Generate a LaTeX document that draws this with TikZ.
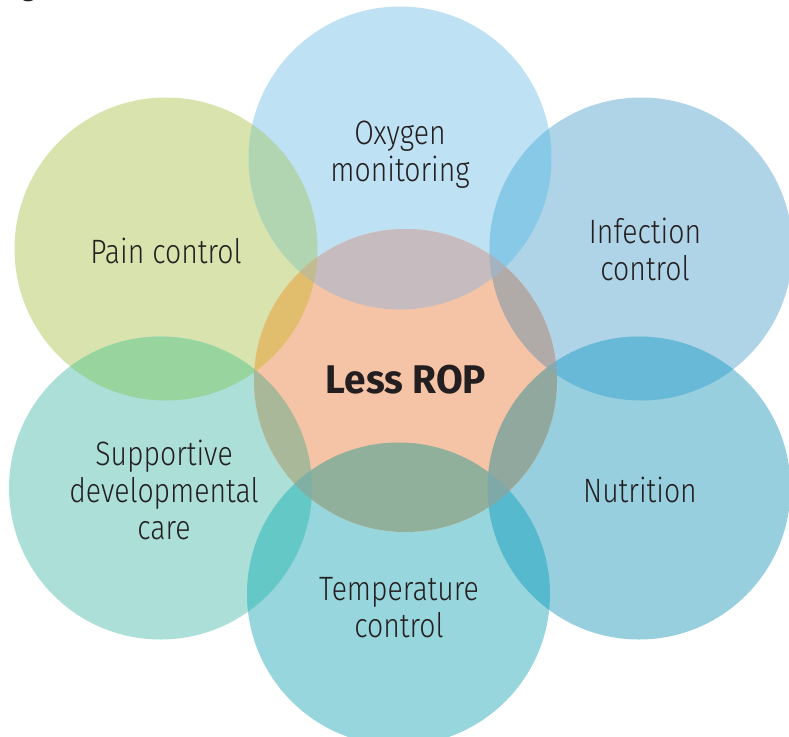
\documentclass[tikz,border=0pt]{standalone}
\usepackage{fontspec}
\setmainfont{Fira Sans Light}[FakeStretch=0.84]
\newfontfamily\ropfont{Fira Sans Bold}[FakeStretch=0.97]
\definecolor{txt}{HTML}{231F20}
\definecolor{cPain}{HTML}{D8E3AD}
\definecolor{cOxy}{HTML}{BEE1F3}
\definecolor{cInf}{HTML}{B0D4E7}
\definecolor{cSup}{HTML}{ACDFD8}
\definecolor{cNut}{HTML}{97CFDE}
\definecolor{cTem}{HTML}{98D6DD}
\definecolor{cCen}{HTML}{F5C4A6}
\definecolor{PO}{HTML}{B0D5B0}
\definecolor{OI}{HTML}{88C9E8}
\definecolor{PS}{HTML}{98D59E}
\definecolor{IN}{HTML}{68B8D8}
\definecolor{ST}{HTML}{64C8C6}
\definecolor{NT}{HTML}{56B9CE}
\definecolor{CO}{HTML}{C6BBBE}
\definecolor{CP}{HTML}{E0BE6E}
\definecolor{CI}{HTML}{B0ABA9}
\definecolor{CS}{HTML}{A8B898}
\definecolor{CN}{HTML}{90A89E}
\definecolor{CT}{HTML}{91B09C}
\definecolor{CPO}{HTML}{C2BA90}
\definecolor{COI}{HTML}{A5B3C0}
\definecolor{CIN}{HTML}{88A8B0}
\definecolor{CNT}{HTML}{7FA8A8}
\definecolor{CST}{HTML}{80B0A4}
\definecolor{CSP}{HTML}{B0BE88}
\newcommand\Rad{151.5pt}
\newcommand\lensfill[3]{\begin{scope}\clip (#1) circle (\Rad);\fill[#3] (#2) circle (\Rad);\end{scope}}
\newcommand\tripfill[4]{\begin{scope}\clip (#1) circle (\Rad);\clip (#2) circle (\Rad);\fill[#4] (#3) circle (\Rad);\end{scope}}
\tikzset{
  lbl/.style={text=txt, align=center, inner sep=0pt, font=\fontsize{33.8}{37}\selectfont},
  boldlbl/.style={text=txt, inner sep=0pt, font=\ropfont\fontsize{40}{44}\selectfont},
}
\begin{document}
\begin{tikzpicture}[x=1pt,y=-1pt]
\useasboundingbox (0,0) rectangle (789,736);
\coordinate (cC) at (405.5,380.5);
\coordinate (cO) at (400,158);
\coordinate (cP) at (166,249);
\coordinate (cI) at (641,249);
\coordinate (cS) at (160.5,488);
\coordinate (cN) at (639,488);
\coordinate (cT) at (398.5,594);
% base discs
\fill[cPain] (cP) circle (\Rad);
\fill[cOxy] (cO) circle (\Rad);
\fill[cInf] (cI) circle (\Rad);
\fill[cSup] (cS) circle (\Rad);
\fill[cNut] (cN) circle (\Rad);
\fill[cTem] (cT) circle (\Rad);
\fill[cCen] (cC) circle (\Rad);
% outer pairwise overlaps
\lensfill{cP}{cO}{PO}
\lensfill{cO}{cI}{OI}
\lensfill{cP}{cS}{PS}
\lensfill{cI}{cN}{IN}
\lensfill{cS}{cT}{ST}
\lensfill{cN}{cT}{NT}
% overlaps with centre disc
\lensfill{cC}{cO}{CO}
\lensfill{cC}{cP}{CP}
\lensfill{cC}{cI}{CI}
\lensfill{cC}{cS}{CS}
\lensfill{cC}{cN}{CN}
\lensfill{cC}{cT}{CT}
% triple overlaps
\tripfill{cC}{cP}{cO}{CPO}
\tripfill{cC}{cO}{cI}{COI}
\tripfill{cC}{cI}{cN}{CIN}
\tripfill{cC}{cN}{cT}{CNT}
\tripfill{cC}{cT}{cS}{CST}
\tripfill{cC}{cS}{cP}{CSP}
% labels
\node[lbl] (oxy) at (400,155) {Oxygen\\monitoring};
\node[lbl, anchor=base] (pain) at (166,263) {Pain control};
\node[lbl] (inf) at (645,249) {Infection\\control};
\node[boldlbl, anchor=base] (rop) at (406,393) {Less ROP};
\node[lbl] (sup) at (164,489.5) {Supportive\\developmental\\care};
\node[lbl, anchor=base] (nut) at (640,502) {Nutrition};
\node[lbl] (tem) at (399,607.5) {Temperature\\control};
\node[text=txt, inner sep=0pt, anchor=base, font=\ropfont\fontsize{24}{28}\selectfont] (fig) at (28.5,-3.5) {g};
\end{tikzpicture}
\end{document}
